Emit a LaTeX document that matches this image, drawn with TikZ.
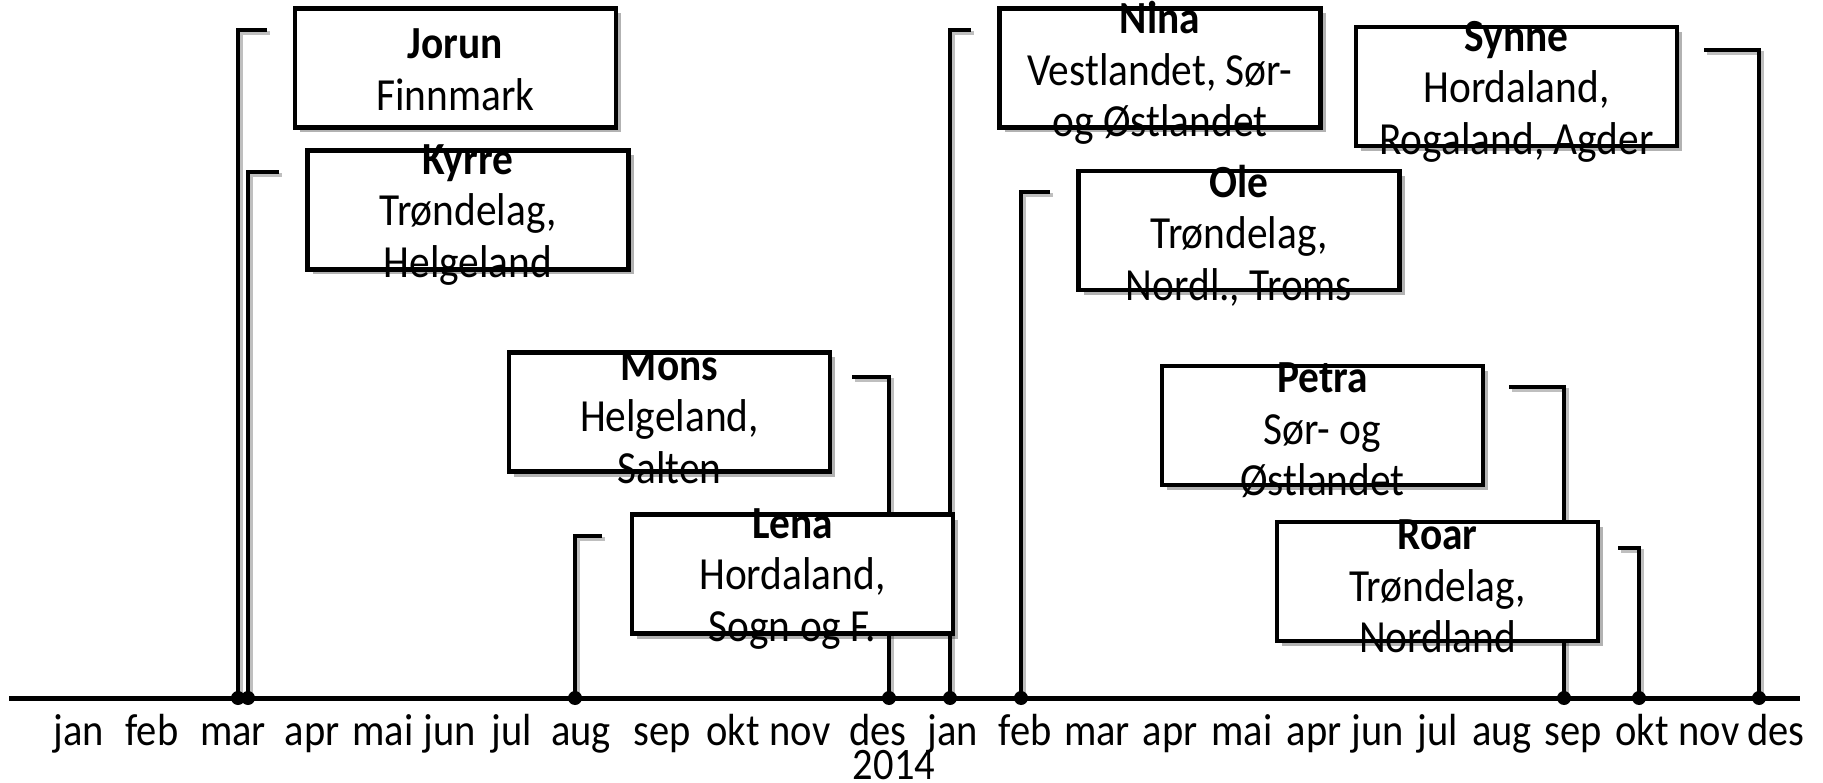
\documentclass[tikz,border=0pt]{standalone}
\usepackage{fontspec}
\setmainfont[FakeStretch=0.9]{Carlito}
\usetikzlibrary{shadows}
\begin{document}
\begin{tikzpicture}[x=1pt,y=-1pt,
  pbox/.style={draw, line width=4.5pt, fill=white, minimum width=321pt, minimum height=119pt, inner sep=0pt,
    drop shadow={shadow xshift=5pt, shadow yshift=-5pt, opacity=0.3, fill=black}},
  ptext/.style={align=center, inner sep=0pt, yshift=-5pt, font=\fontsize{46}{51.5}\selectfont},
  conn/.style={line width=4.5pt, preaction={draw, black, opacity=0.25, line width=4.5pt, transform canvas={shift={(3pt,-3pt)}}}},
  axisline/.style={line width=5pt},
  dot/.style={circle, fill=black, inner sep=0pt, minimum size=14pt},
  mlabel/.style={anchor=base, inner sep=0pt, font=\fontsize{45}{50}\selectfont}]
\useasboundingbox (0,0) rectangle (1823,783);
% axis
\coordinate (axL) at (9,698);
\coordinate (axR) at (1800,698);
\draw[axisline] (axL) -- (axR);
% connector anchor points
\coordinate (dJ) at (238,698);  \coordinate (eJ) at (267,30);
\coordinate (dK) at (248,698);  \coordinate (eK) at (279,172);
\coordinate (dM) at (889,698);  \coordinate (eM) at (852,377);
\coordinate (dL) at (575,698);  \coordinate (eL) at (602,536);
\coordinate (dN) at (950,698);  \coordinate (eN) at (971,30);
\coordinate (dO) at (1021,698); \coordinate (eO) at (1050,192);
\coordinate (dS) at (1759,698); \coordinate (eS) at (1704,50);
\coordinate (dP) at (1564,698); \coordinate (eP) at (1509,387);
\coordinate (dR) at (1639,698); \coordinate (eR) at (1618,548);
\draw[conn] (dJ) |- (eJ);
\draw[conn] (dK) |- (eK);
\draw[conn] (dM) |- (eM);
\draw[conn] (dL) |- (eL);
\draw[conn] (dN) |- (eN);
\draw[conn] (dO) |- (eO);
\draw[conn] (dS) |- (eS);
\draw[conn] (dP) |- (eP);
\draw[conn] (dR) |- (eR);
% dots
\foreach \d in {dJ,dK,dM,dL,dN,dO,dS,dP,dR} \node[dot] (\d dot) at (\d) {};
% boxes
\node[pbox] (jorun) at (455.5,68) {};
\node[ptext, yshift=3pt] (jorunT) at (jorun.center) {\textbf{Jorun}\\Finnmark};
\node[pbox] (kyrre) at (468,210) {};
\node[ptext] (kyrreT) at (kyrre.center) {\textbf{Kyrre}\\Trøndelag,\\Helgeland};
\node[pbox] (mons) at (669.5,412) {};
\node[ptext] (monsT) at (mons.center) {\textbf{Mons}\\Helgeland,\\Salten};
\node[pbox] (lena) at (792.5,574) {};
\node[ptext] (lenaT) at (lena.center) {\textbf{Lena}\\Hordaland,\\Sogn og F.};
\node[pbox] (nina) at (1160,68) {};
\node[ptext] (ninaT) at (nina.center) {\textbf{Nina}\\Vestlandet, Sør-\\og Østlandet};
\node[pbox] (synne) at (1516.5,86.5) {};
\node[ptext] (synneT) at (synne.center) {\textbf{Synne}\\Hordaland,\\Rogaland, Agder};
\node[pbox] (ole) at (1239,230.5) {};
\node[ptext] (oleT) at (ole.center) {\textbf{Ole}\\Trøndelag,\\Nordl., Troms};
\node[pbox] (petra) at (1322.5,425.5) {};
\node[ptext] (petraT) at (petra.center) {\textbf{Petra}\\Sør- og\\Østlandet};
\node[pbox] (roar) at (1437.5,581.5) {};
\node[ptext] (roarT) at (roar.center) {\textbf{Roar}\\Trøndelag,\\Nordland};
% month labels
\foreach \x/\m [count=\i] in {79/jan,152/feb,233/mar,312/apr,383/mai,450/jun,512/jul,581/aug,662/sep,733/okt,800/nov,878/des,953/jan,1025/feb,1097/mar,1170/apr,1242/mai,1314/apr,1378/jun,1438/jul,1502/aug,1573/sep,1642/okt,1709/nov,1776/des}
  \node[mlabel] (m\i) at (\x,745) {\m};
\node[mlabel] (year) at (894,779) {2014};
\end{tikzpicture}
\end{document}
